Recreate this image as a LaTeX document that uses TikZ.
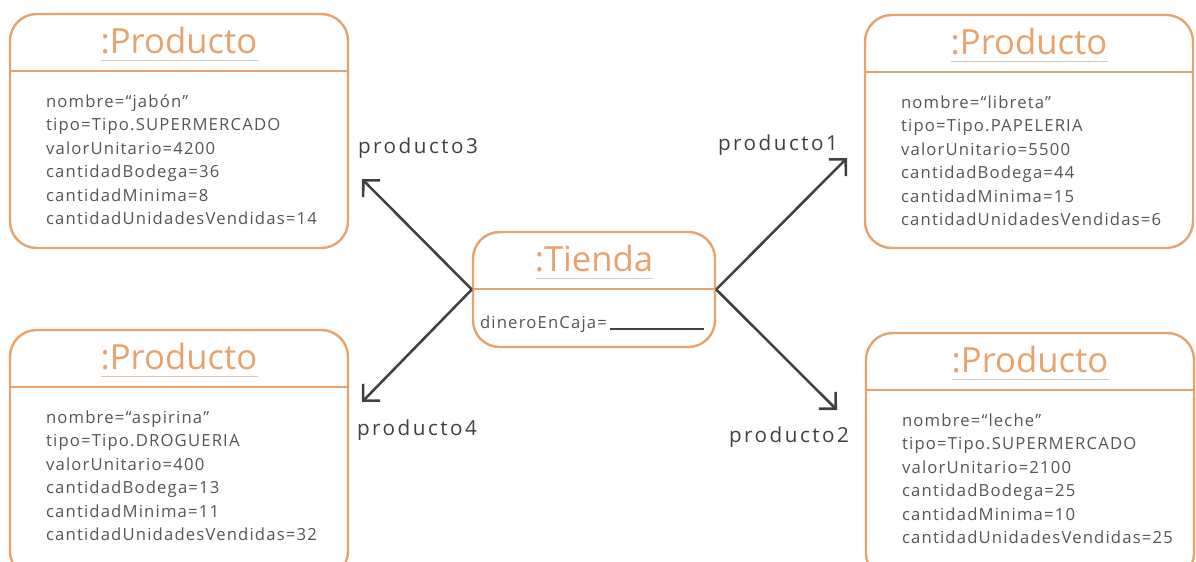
\documentclass[tikz,border=0pt]{standalone}
\usepackage{fontspec}
\setmainfont{Open Sans}
\newfontfamily\attrfont[LetterSpace=7]{Open Sans}
\newfontfamily\rolfont[LetterSpace=12]{Open Sans}
\usetikzlibrary{arrows.meta,calc,fit}

\definecolor{naranja}{HTML}{E8A26C}
\definecolor{gristexto}{HTML}{555555}
\definecolor{grisflecha}{HTML}{404040}
\definecolor{subrayado}{HTML}{DCC6B4}

\tikzset{
  objbox/.style={draw=naranja, line width=1.8pt, rounded corners=20pt, inner sep=0pt},
  divisor/.style={draw=naranja, line width=1.8pt},
  titulo/.style={text=naranja, font=\fontsize{26}{30}\selectfont, inner sep=0pt},
  subraya/.style={draw=subrayado, line width=0.8pt},
  atributo/.style={text=gristexto, font=\attrfont\fontsize{12.5}{15}\selectfont, inner sep=0pt, anchor=base west},
  flecha/.style={draw=grisflecha, line width=1.9pt, -{Straight Barb[length=9pt,width=18pt]}},
  rol/.style={text=grisflecha, font=\rolfont\fontsize{15.5}{18}\selectfont, inner sep=0pt},
}

% objeto: nombre, esquinas, titulo, atributos
\newcommand{\objeto}[4]{%
  \node[objbox, fit={#2}] (#1) {};
  \draw[divisor] ($(#1.north west)+(0,58)$) -- ($(#1.north east)+(0,58)$);
  \node[titulo, anchor=base] (#1-t) at ($(#1.north)+(0,41)$) {#3};
  \draw[subraya] ($(#1-t.base west)+(1,7)$) -- ($(#1-t.base east)+(0,7)$);
  \foreach \linea [count=\i] in {#4}
    \node[atributo] at ($(#1.north west)+(37,71+23.5*\i)$) {\linea};
}

\begin{document}
\begin{tikzpicture}[x=0.75pt, y=-0.75pt]
  \useasboundingbox (0,0) rectangle (1196,561);
  \clip (0,0) rectangle (1196,561);

  % productos
  \objeto{prodA}{(10,14) (348,248)}{:Producto}{nombre=“jabón”, tipo=Tipo.SUPERMERCADO,
    valorUnitario=4200, cantidadBodega=36, cantidadMinima=8, cantidadUnidadesVendidas=14}
  \objeto{prodB}{(865,15) (1193,248)}{:Producto}{nombre=“libreta”, tipo=Tipo.PAPELERIA,
    valorUnitario=5500, cantidadBodega=44, cantidadMinima=15, cantidadUnidadesVendidas=6}
  \objeto{prodC}{(10,330) (348,578)}{:Producto}{nombre=“aspirina”, tipo=Tipo.DROGUERIA,
    valorUnitario=400, cantidadBodega=13, cantidadMinima=11, cantidadUnidadesVendidas=32}
  \objeto{prodD}{(866,333) (1194,580)}{:Producto}{nombre=“leche”, tipo=Tipo.SUPERMERCADO,
    valorUnitario=2100, cantidadBodega=25, cantidadMinima=10, cantidadUnidadesVendidas=25}

  % tienda
  \node[objbox, fit={(473,232) (715,347)}] (tienda) {};
  \draw[divisor] ($(tienda.north west)+(0,58)$) -- ($(tienda.north east)+(0,58)$);
  \node[titulo, anchor=base] (tienda-t) at ($(tienda.north)+(0,41)$) {:Tienda};
  \draw[subraya] ($(tienda-t.base west)+(1,7)$) -- ($(tienda-t.base east)+(0,7)$);
  \node[atributo] (dinero) at ($(tienda.north west)+(8,98)$)
    {dineroEnCaja=\,\textcolor{grisflecha}{\rule[-1pt]{71pt}{1.5pt}}};

  % extremos de las flechas
  \coordinate (p1) at (847,158);
  \coordinate (p2) at (837,410);
  \coordinate (p3) at (362,179);
  \coordinate (p4) at (362,402);

  \draw[flecha] (tienda.west) -- (p3);
  \draw[flecha] (tienda.west) -- (p4);
  \draw[flecha] (tienda.east) -- (p1);
  \draw[flecha] (tienda.east) -- (p2);

  \node[rol] (r1) at (778,145) {producto1};
  \node[rol] (r2) at (789,437) {producto2};
  \node[rol] (r3) at (418,148) {producto3};
  \node[rol] (r4) at (417,430) {producto4};
\end{tikzpicture}
\end{document}
